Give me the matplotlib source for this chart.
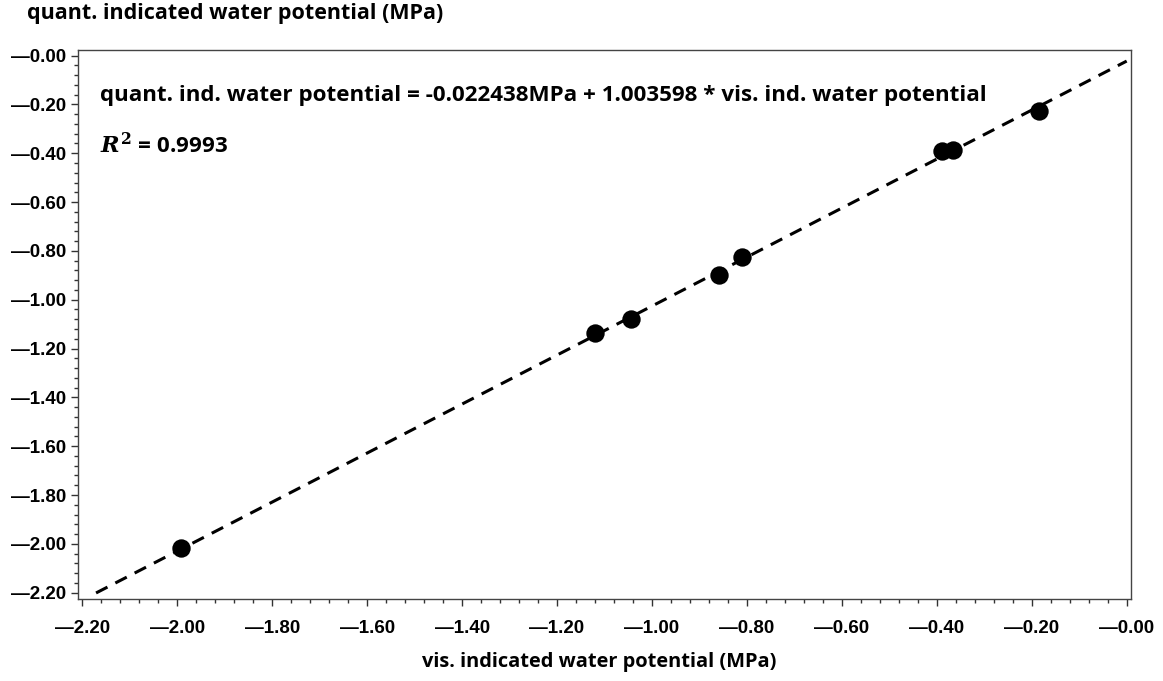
import numpy as np
import matplotlib
matplotlib.use("Agg")
import matplotlib.pyplot as plt
from matplotlib.ticker import MultipleLocator, FuncFormatter

# Measured water potentials (MPa)
vis_wp = [-1.992, -1.120, -1.044, -0.858, -0.811, -0.390, -0.365, -0.184]
quant_wp = [-2.019, -1.135, -1.079, -0.899, -0.826, -0.391, -0.386, -0.227]

# Linear fit reported on the chart
intercept = -0.022438
slope = 1.003598
r_squared = 0.9993
fit_x_range = [-2.171, 0.0]

plt.rcParams["font.family"] = ["Liberation Sans", "DejaVu Sans"]
plt.rcParams["font.weight"] = "bold"
plt.rcParams["mathtext.fontset"] = "custom"
plt.rcParams["mathtext.it"] = "DejaVu Serif:italic:bold"
plt.rcParams["mathtext.rm"] = "DejaVu Serif:bold"

label_font = dict(family="Open Sans", weight="bold")

fig = plt.figure(figsize=(11.63, 6.81), dpi=100)
ax = fig.add_axes([0.0668, 0.1204, 0.9054, 0.8062])

fx = np.array(fit_x_range)
ax.plot(fx, intercept + slope * fx, color="black", lw=2.2,
        linestyle=(0, (4.2, 2.9)), zorder=2)
ax.scatter(vis_wp, quant_wp, s=175, color="black", zorder=3, linewidths=0)

ax.set_xlim(-2.2097, 0.0084)
ax.set_ylim(-2.226, 0.023)

def dash_fmt(v, pos):
    return "\u2014" + f"{abs(v):.2f}"

ax.xaxis.set_major_locator(MultipleLocator(0.2))
ax.xaxis.set_minor_locator(MultipleLocator(0.04))
ax.yaxis.set_major_locator(MultipleLocator(0.2))
ax.yaxis.set_minor_locator(MultipleLocator(0.04))
ax.xaxis.set_major_formatter(FuncFormatter(dash_fmt))
ax.yaxis.set_major_formatter(FuncFormatter(dash_fmt))

ax.tick_params(which="major", direction="out", length=5, width=1.0,
               color="#333333", labelsize=13.5)
ax.tick_params(which="minor", direction="out", length=2.8, width=1.0,
               color="#333333")
ax.tick_params(axis="x", which="major", pad=10)
ax.tick_params(axis="y", which="major", pad=3)

for sp in ax.spines.values():
    sp.set_color("#444444")
    sp.set_linewidth(1.0)

ax.text(0.0215, 0.918,
        f"quant. ind. water potential = {intercept:.6f}MPa + {slope:.6f} * vis. ind. water potential",
        transform=ax.transAxes, fontsize=16.1, va="center", ha="left", **label_font)
ax.text(0.0215, 0.826, f"$R^2$ = {r_squared:.4f}",
        transform=ax.transAxes, fontsize=16.1, va="center", ha="left", **label_font)

fig.text(27 / 1163, 1 - 14 / 681, "quant. indicated water potential (MPa)",
         fontsize=15.5, va="center", ha="left", **label_font)
fig.text(599 / 1163, 1 - 662 / 681, "vis. indicated water potential (MPa)",
         fontsize=14.4, va="center", ha="center", **label_font)

fig.savefig("out.png", dpi=100)
